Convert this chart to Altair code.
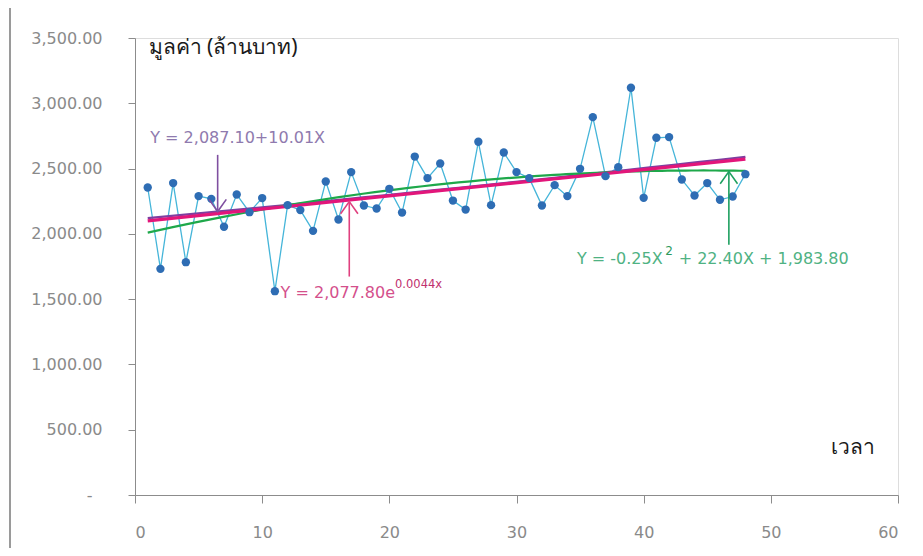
import altair as alt
import pandas as pd

# time index and series values (million baht)
times = list(range(1, 49))
values = [2355, 1732, 2389, 1783, 2289, 2268, 2054, 2301, 2166, 2274,
          1561, 2220, 2182, 2023, 2401, 2110, 2473, 2217, 2194, 2345,
          2163, 2592, 2427, 2539, 2255, 2186, 2705, 2220, 2623, 2473,
          2427, 2217, 2373, 2289, 2498, 2894, 2442, 2511, 3119, 2276,
          2736, 2741, 2416, 2294, 2389, 2261, 2286, 2457]

x_ticks = [0, 10, 20, 30, 40, 50, 60]
y_ticks = [0, 500, 1000, 1500, 2000, 2500, 3000, 3500]

# equation labels
lab_text = ["Y = 2,087.10+10.01X", "Y = 2,077.80e", "0.0044x",
            "Y = -0.25X", "2", "+ 22.40X + 1,983.80"]
lab_x = [1.2, 11.45, 20.45, 34.75, 41.7, 42.75]
lab_y = [2736, 1548, 1605, 1808, 1865, 1808]
lab_size = [16, 16, 11.5, 16, 12, 16]
lab_color = ["#8F7AAE", "#D4508C", "#C0306E", "#4FB283", "#2E9A5C", "#4FB283"]

# arrows (x, y_from, y_to), tip at y_to
arr_x = [6.5, 16.85, 46.7]
arr_y_from = [2605, 1673, 1916]
arr_y_to = [2171, 2247, 2477]
arr_dir = ["down", "up", "up"]
arr_color = ["#7F4FA0", "#E0407F", "#1FA060"]

df = pd.DataFrame({"t": times, "v": values})
labels = pd.DataFrame({"x": lab_x, "y": lab_y, "text": lab_text,
                       "size": lab_size, "color": lab_color})
arrows = pd.DataFrame({"x": arr_x, "y1": arr_y_from, "y2": arr_y_to,
                       "dir": arr_dir, "color": arr_color})

xscale = alt.Scale(domain=[0, 60], nice=False)
yscale = alt.Scale(domain=[0, 3500], nice=False)

xaxis = alt.Axis(values=x_ticks, grid=False, tickSize=8, labelPadding=21,
                 labelFontSize=16, labelColor="#8a8a8a", labelFont="DejaVu Sans",
                 domainColor="#8c8c8c", tickColor="#8c8c8c",
                 title="เวลา", titleX=695, titleY=-48, titleAlign="left",
                 titleBaseline="middle", titleAnchor=None, titleFontSize=21,
                 titleFontWeight="normal", titleColor="#1a1a1a", titleFont="Noto Sans")
yaxis = alt.Axis(values=y_ticks, grid=False, tickSize=7,
                 labelPadding={"condition": {"test": "datum.value == 0", "value": 36}, "value": 26},
                 labelFontSize=16, labelColor="#8a8a8a", labelFont="DejaVu Sans",
                 labelExpr="datum.value == 0 ? '-' : format(datum.value, ',.2f')",
                 domainColor="#8c8c8c", tickColor="#8c8c8c",
                 title="มูลค่า (ล้านบาท)", titleAngle=0, titleX=13, titleY=9,
                 titleAlign="left", titleBaseline="middle", titleFontSize=21,
                 titleFontWeight="normal", titleColor="#1a1a1a", titleFont="Noto Sans")

base = alt.Chart(df)

series = base.mark_line(color="#45B5D9", strokeWidth=1.3).encode(
    x=alt.X("t:Q", scale=xscale, axis=xaxis),
    y=alt.Y("v:Q", scale=yscale, axis=yaxis),
)

enc = dict(x=alt.X("t:Q", scale=xscale), y=alt.Y("v:Q", scale=yscale))

exp_fit = base.transform_regression("t", "v", method="exp", extent=[1, 48]).mark_line(
    color="#7E3FA0", strokeWidth=2.2).encode(**enc)
poly_fit = base.transform_regression("t", "v", method="poly", order=2, extent=[1, 48]).mark_line(
    color="#1EA84A", strokeWidth=2.2).encode(**enc)
lin_fit = base.transform_regression("t", "v", method="linear", extent=[1, 48]).mark_line(
    color="#E2167A", strokeWidth=3.2).encode(**enc)

points = base.mark_circle(size=70, color="#2E6DB4", opacity=1).encode(**enc)

arr_base = alt.Chart(arrows)
arrow_lines = arr_base.mark_rule(strokeWidth=1.6).encode(
    x=alt.X("x:Q", scale=xscale),
    y=alt.Y("y1:Q", scale=yscale),
    y2="y2:Q",
    color=alt.Color("color:N", scale=None),
)
head_down = arr_base.transform_filter("datum.dir == 'down'").mark_point(
    shape="M-1,-1.4L0,0L1,-1.4", size=300, filled=False, strokeWidth=1.6, opacity=1).encode(
    x=alt.X("x:Q", scale=xscale), y=alt.Y("y2:Q", scale=yscale),
    color=alt.Color("color:N", scale=None))
head_up = arr_base.transform_filter("datum.dir == 'up'").mark_point(
    shape="M-1,1.4L0,0L1,1.4", size=300, filled=False, strokeWidth=1.6, opacity=1).encode(
    x=alt.X("x:Q", scale=xscale), y=alt.Y("y2:Q", scale=yscale),
    color=alt.Color("color:N", scale=None))

texts = alt.Chart(labels).mark_text(align="left", baseline="middle", font="DejaVu Sans").encode(
    x=alt.X("x:Q", scale=xscale),
    y=alt.Y("y:Q", scale=yscale),
    text="text:N",
    size=alt.Size("size:Q", scale=None),
    color=alt.Color("color:N", scale=None),
)

border = alt.Chart(df).mark_rule(color="#9a9a9a", strokeWidth=2).encode(
    x=alt.value(-125), y=alt.value(-38), y2=alt.value(518))

chart = alt.layer(
    border, series, exp_fit, poly_fit, lin_fit, points,
    arrow_lines, head_down, head_up, texts
).properties(
    width=763, height=457,
    autosize=alt.AutoSizeParams(type="none"),
    padding={"left": 127, "top": 30, "right": 17, "bottom": 53},
).configure_view(stroke=None).configure(background="white")

chart.save("out.html", embed_options={"renderer": "svg", "actions": False})
